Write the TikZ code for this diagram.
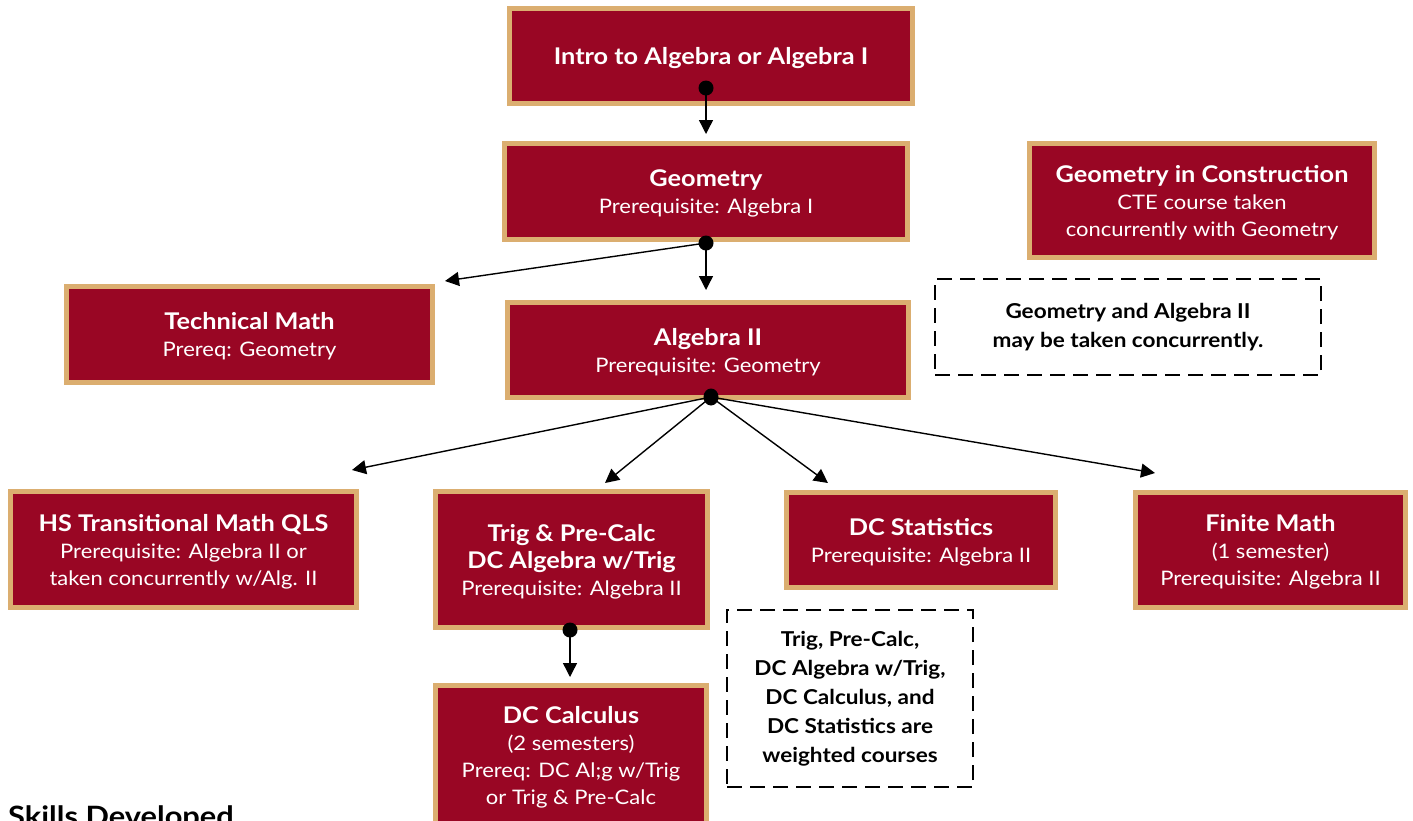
\documentclass[tikz,border=0pt]{standalone}
\usepackage{fontspec}
\setmainfont{Lato}[FakeStretch=1.1]
\usetikzlibrary{arrows.meta,shapes.geometric}
\definecolor{crimson}{HTML}{990624}
\definecolor{tan}{HTML}{DBAE70}
\newcommand{\ttl}[1]{{\bfseries\fontsize{23}{27}\selectfont #1}}
\tikzset{
  course/.style={draw=tan, line width=5pt, fill=crimson, text=white, align=center,
    font=\fontsize{20}{27}\selectfont, inner sep=0pt, text depth=0pt},
  note/.style={draw=black, line width=2.6pt, dash pattern=on 15pt off 8pt, align=center,
    font=\bfseries\fontsize{20.5}{29}\selectfont, inner sep=0pt},
  flow/.style={line width=1.4pt, -{Triangle[length=14pt,width=14pt]}},
  dot/.style={circle, fill=black, inner sep=0pt, minimum size=15pt}
}
\begin{document}
\begin{tikzpicture}[x=1pt,y=-1pt]
\useasboundingbox (0,0) rectangle (1413,820);
\clip (0,0) rectangle (1413,820);
\node[course, minimum width=403pt, minimum height=95pt] (intro) at (711,56) {\ttl{Intro to Algebra or Algebra I}};
\node[course, minimum width=403pt, minimum height=96pt] (geo) at (706,191.5) {\ttl{Geometry}\\Prerequisite: Algebra I};
\node[course, minimum width=345pt, minimum height=114pt] (gic) at (1202,200.5) {\ttl{Geometry in Construction}\\CTE course taken\\concurrently with Geometry};
\node[course, minimum width=366pt, minimum height=96pt] (tech) at (249.5,334.5) {\ttl{Technical Math}\\Prereq: Geometry};
\node[course, minimum width=401pt, minimum height=95pt] (alg2) at (708,350) {\ttl{Algebra II}\\Prerequisite: Geometry};
\node[note, minimum width=386pt, minimum height=96pt] (n1) at (1128,327) {Geometry and Algebra II\\may be taken concurrently.};
\node[course, minimum width=346pt, minimum height=116pt] (hs) at (183.5,549.5) {\ttl{HS Transitional Math QLS}\\Prerequisite: Algebra II or\\taken concurrently w/Alg. II};
\node[course, minimum width=272pt, minimum height=136pt] (trig) at (571.5,559.5) {\ttl{Trig \& Pre-Calc}\\\ttl{DC Algebra w/Trig}\\Prerequisite: Algebra II};
\node[course, minimum width=269pt, minimum height=95pt] (stat) at (921,540) {\ttl{DC Statistics}\\Prerequisite: Algebra II};
\node[course, minimum width=270pt, minimum height=115pt] (fin) at (1270.5,550) {\ttl{Finite Math}\\(1 semester)\\Prerequisite: Algebra II};
\node[note, minimum width=246pt, minimum height=177pt] (n2) at (850,698.5) {Trig, Pre-Calc,\\DC Algebra w/Trig,\\DC Calculus, and\\DC Statistics are\\weighted courses};
\node[course, minimum width=271pt, minimum height=140pt] (calc) at (571,755.5) {\ttl{DC Calculus}\\(2 semesters)\\Prereq: DC Al;g w/Trig\\or Trig \& Pre-Calc};
\node[anchor=base west, font=\bfseries\fontsize{28}{30}\selectfont, inner sep=0pt] (skills) at (8,826) {Skills Developed};
% dots
\node[dot] (d1) at (706,88) {};
\node[dot] (d2) at (706,243) {};
\node[dot, ellipse, minimum width=15pt, minimum height=17pt] (d3) at (711,397) {};
\node[dot] (d4) at (570,630) {};
% tips
\coordinate (t1) at (706,134);
\coordinate (t2a) at (706,290);
\coordinate (t2b) at (445,281);
\coordinate (t3a) at (352,470);
\coordinate (t3b) at (605,483);
\coordinate (t3c) at (828,483);
\coordinate (t3d) at (1155,473);
\coordinate (t4) at (570,677);
\draw[flow] (d1.center) -- (t1);
\draw[flow] (d2.center) -- (t2a);
\draw[flow] (d2.center) -- (t2b);
\draw[flow] (d3.center) -- (t3a);
\draw[flow] (d3.center) -- (t3b);
\draw[flow] (d3.center) -- (t3c);
\draw[flow] (d3.center) -- (t3d);
\draw[flow] (d4.center) -- (t4);
\end{tikzpicture}
\end{document}
